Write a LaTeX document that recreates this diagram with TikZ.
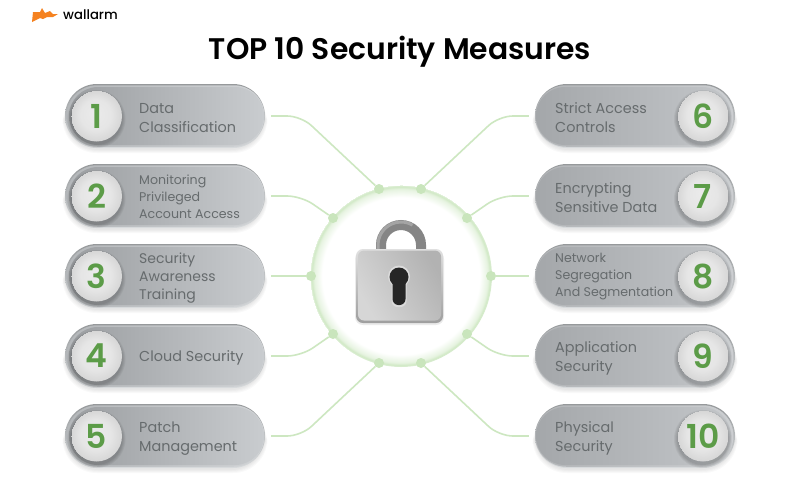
\documentclass[tikz,border=0pt]{standalone}
\usepackage{fontspec}
\setmainfont{Poppins}
\newfontfamily\pmed[UprightFont=* Medium,BoldFont=* SemiBold]{Poppins}
\usetikzlibrary{calc}
\definecolor{rimD}{HTML}{96999B}
\definecolor{rimL}{HTML}{D8DBDD}
\definecolor{pillD}{HTML}{9B9EA1}
\definecolor{pillL}{HTML}{C9CCCF}
\definecolor{pillRD}{HTML}{A4A7AA}
\definecolor{pillRL}{HTML}{C3C6C9}
\definecolor{txt}{HTML}{666B6D}
\definecolor{num}{HTML}{5C9C48}
\definecolor{lnk}{HTML}{CDE7C1}
\definecolor{dotc}{HTML}{C9E5BC}
\definecolor{orangeL}{HTML}{F58220}
\pgfdeclareradialshading{glowring}{\pgfpoint{0bp}{0bp}}{color(0bp)=(white); color(21.6bp)=(white); color(23.8bp)=(dotc!45!white); color(24.6bp)=(dotc!90!white); color(25bp)=(dotc!40!white)}
\pgfdeclareradialshading{knobshade}{\pgfpoint{-2bp}{3bp}}{color(0bp)=(white!92!black); color(15bp)=(white!90!black); color(25bp)=(white!84!black)}
\tikzset{
  x=1pt,y=-1pt,
  rimbox/.style={minimum width=200pt,minimum height=64pt,rounded corners=32pt,inner sep=0pt,top color=rimD,bottom color=rimL},
  midl/.style={minimum width=198pt,minimum height=61.5pt,rounded corners=30.75pt,inner sep=0pt,left color=pillD!60!rimL,right color=pillL!85!white},
  facel/.style={minimum width=195pt,minimum height=58pt,rounded corners=29pt,inner sep=0pt,left color=pillD,right color=pillL},
  midr/.style={minimum width=198pt,minimum height=61.5pt,rounded corners=30.75pt,inner sep=0pt,left color=pillRD!85!white,right color=pillRL!85!white},
  facer/.style={minimum width=195pt,minimum height=58pt,rounded corners=29pt,inner sep=0pt,left color=pillRD,right color=pillRL},
  knob/.style={circle,minimum size=51pt,inner sep=0pt,shading=knobshade,font=\fontsize{33}{33}\pmed\bfseries\selectfont\color{num}},
  lab/.style={inner sep=0pt,align=left,text=txt,anchor=west,font=\fontsize{14.4}{19}\selectfont},
  labm/.style={lab,font=\fontsize{14}{18}\selectfont},
  labs/.style={lab,font=\fontsize{12.6}{17}\selectfont},
  joint/.style={circle,fill=dotc,minimum size=10pt,inner sep=0pt},
  link/.style={draw=lnk,line width=1.6pt,rounded corners=14pt},
}
\newcommand{\softshadow}[1]{%
  \foreach \k in {1,...,4}{
    \fill[black,opacity=.025,rounded corners=34pt] ($(#1)+(-100-\k*.6,-26)$) rectangle ($(#1)+(100+\k*.6,33+\k)$);
  }}
\newcommand{\knobshadow}[1]{%
  \foreach \k in {1,...,4}{
    \fill[black,opacity=.05] ($(#1)+(0,3)$) circle[radius=25+\k];
  }}
\begin{document}
\begin{tikzpicture}
\useasboundingbox[fill=white] (0,0) rectangle (800,480);
% logo
\fill[orangeL] (32,22) -- (33,12) -- (40,12) -- (42,8) -- (45,13) -- (50,11) -- (53,14) -- (58,14) -- (53,17) -- (47,17) -- (43,19) -- (40,18) -- cycle;
\node[inner sep=0pt,anchor=west,font=\fontsize{13.2}{15}\pmed\selectfont] (logo) at (63,15) {wallarm};
\node[inner sep=0pt,font=\fontsize{29.8}{30}\pmed\bfseries\selectfont] (title) at (400,52) {TOP 10 Security Measures};
% shadows
\foreach \y in {116,196,276,356,436}{
  \softshadow{165,\y}
  \softshadow{635,\y}
}
% pills
\foreach \i/\y in {1/116,2/196,3/276,4/356,5/436}{
  \node[rimbox] (pill\i) at (165,\y) {};
  \node[midl] (mid\i) at (165.5,\y) {};
  \node[facel] (face\i) at (166.5,\y) {};
  \knobshadow{96.5,\y}
  \node[knob] (knob\i) at (96.5,\y) {\i};
}
\foreach \i/\y in {6/116,7/196,8/276,9/356,10/436}{
  \node[rimbox] (pill\i) at (635,\y) {};
  \node[midr] (mid\i) at (634.5,\y) {};
  \node[facer] (face\i) at (633.5,\y) {};
  \knobshadow{703,\y}
  \node[knob] (knob\i) at (703,\y) {\i};
}
% labels
\node[lab] (t1) at (139,118.5) {Data\\Classification};
\node[labs] (t2) at (139,197) {Monitoring\\Privileged\\Account Access};
\node[labm] (t3) at (139,278) {Security\\Awareness\\Training};
\node[lab] (t4) at (139,357.5) {Cloud Security};
\node[lab] (t5) at (139,438.5) {Patch\\Management};
\node[lab] (t6) at (555,118) {Strict Access\\Controls};
\node[lab] (t7) at (555,198) {Encrypting\\Sensitive Data};
\node[labs] (t8) at (555,277) {Network\\Segregation\\And Segmentation};
\node[lab] (t9) at (555,358) {Application\\Security};
\node[lab] (t10) at (555,438) {Physical\\Security};
% centre ring
\node[circle,minimum size=182pt,inner sep=0pt,shading=glowring] (ring) at (401,276) {};
% joints
\foreach \n/\px/\py in {a1/379/189,a2/333/218,a3/311/276,a4/333/334,a5/379/363,a6/421/189,a7/467/218,a8/491/276,a9/467/334,a10/421/363}{
  \node[joint] (\n) at (\px,\py) {};
}
% connectors
\foreach \i in {1,2,4,5}{
  \draw[link] ([xshift=6pt]pill\i.east) -- ++(30,0) -- (a\i);
}
\draw[link] ([xshift=6pt]pill3.east) -- (a3);
\foreach \i in {6,7,9,10}{
  \draw[link] ([xshift=-6pt]pill\i.west) -- ++(-30,0) -- (a\i);
}
\draw[link] ([xshift=-6pt]pill8.west) -- (a8);
% padlock
\draw[line width=10pt,draw=white!52!black] (381,252) -- (381,245) arc[start angle=180,end angle=360,radius=20] -- (421,252);
\draw[line width=3pt,draw=white!70!black,opacity=.7] (378,250) -- (378,245) arc[start angle=180,end angle=300,radius=23];
\fill[black,opacity=.08,rounded corners=8pt] (355,251) rectangle (444,325);
\node[minimum width=87pt,minimum height=74pt,rounded corners=7pt,inner sep=0pt,top color=white!88!black,bottom color=white!62!black] (lockrim) at (399.5,286) {};
\node[minimum width=83pt,minimum height=70pt,rounded corners=6pt,inner sep=0pt,left color=white!84!black,right color=white!70!black,shading angle=120] (lockbody) at (399.5,285.5) {};
\fill[white!86!black] (399,276.5) circle[radius=11];
\fill[white!86!black,rounded corners=6pt] (391.5,278) rectangle (406.5,307);
\fill[black!85] (399,277) circle[radius=9.5];
\fill[black!85,rounded corners=6pt] (392.5,278) rectangle (405.5,305);
\end{tikzpicture}
\end{document}
